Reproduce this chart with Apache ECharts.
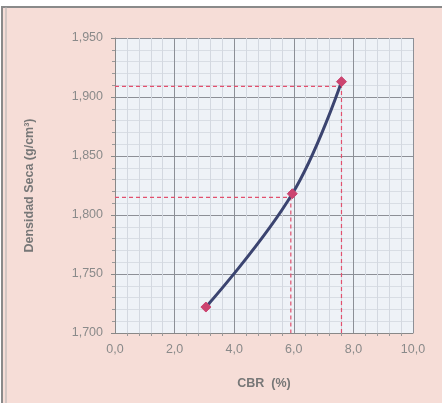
<!DOCTYPE html>
<html><head><meta charset="utf-8">
<script src="https://cdn.jsdelivr.net/npm/echarts@6/dist/echarts.min.js"></script>
<style>html,body{margin:0;padding:0;background:#fff}#c{width:442px;height:403px}</style>
</head><body><div id="c"></div>
<script>
var cbr = [3.05, 5.95, 7.6];
var densidad = [1.722, 1.818, 1.913];
var guide1 = [[0, 1.815], [5.9, 1.815], [5.9, 1.700]];
var guide2 = [[0, 1.909], [7.6, 1.909], [7.6, 1.700]];
var xTitle = 'CBR  (%)';
var yTitle = 'Densidad Seca (g/cm\u00b3)';

var chart = echarts.init(document.getElementById('c'));
var pts = cbr.map(function (v, i) { return [v, densidad[i]]; });
var dashStyle = { color: '#e2506e', width: 1.2, type: [4, 3] };
chart.setOption({
  backgroundColor: '#f6ddd7',
  animation: false,
  graphic: [
    { type: 'rect', shape: { x: 2, y: 7, width: 445, height: 400 }, style: { fill: 'none', stroke: '#8a8a8a', lineWidth: 2 }, z: 100 },
    { type: 'line', shape: { x1: 6, y1: 7, x2: 6, y2: 403 }, style: { stroke: '#b0b0b0', lineWidth: 1 }, z: 100 },
    { type: 'rect', shape: { x: 0, y: 0, width: 442, height: 6 }, style: { fill: '#ffffff' }, z: 99 },
    { type: 'rect', shape: { x: 0, y: 0, width: 1, height: 403 }, style: { fill: '#ffffff' }, z: 99 }
  ],
  grid: { left: 115, right: 29, top: 38, bottom: 70, show: true, backgroundColor: '#eef2f7', borderWidth: 0 },
  xAxis: {
    type: 'value', min: 0, max: 10, interval: 2,
    name: xTitle, nameLocation: 'middle', nameGap: 44,
    nameTextStyle: { color: '#777', fontWeight: 'bold', fontSize: 12.5, fontFamily: 'Liberation Sans' },
    axisLine: { show: true, onZero: false, lineStyle: { color: '#888' } },
    axisTick: { show: false },
    axisLabel: { color: '#8a8a8a', fontSize: 12.5, fontFamily: 'Liberation Sans', margin: 10,
      formatter: function (v) { return v.toFixed(1).replace('.', ','); } },
    splitLine: { show: true, lineStyle: { color: '#8c8f96', width: 1 } },
    minorTick: { show: true, splitNumber: 5, length: 3, lineStyle: { color: '#999' } },
    minorSplitLine: { show: true, lineStyle: { color: '#d3d8e0', width: 1 } }
  },
  yAxis: {
    type: 'value', min: 1.7, max: 1.95, interval: 0.05,
    name: yTitle, nameLocation: 'middle', nameGap: 79, nameRotate: 90,
    nameTextStyle: { color: '#777', fontWeight: 'bold', fontSize: 12.5, fontFamily: 'Liberation Sans' },
    axisLine: { show: true, lineStyle: { color: '#888' } },
    axisTick: { show: true, length: 4, lineStyle: { color: '#888' } },
    axisLabel: { color: '#8a8a8a', fontSize: 12.5, fontFamily: 'Liberation Sans', margin: 12,
      formatter: function (v) { return v.toFixed(3).replace('.', ','); } },
    splitLine: { show: true, lineStyle: { color: '#8c8f96', width: 1 } },
    minorTick: { show: true, splitNumber: 5, length: 3, lineStyle: { color: '#999' } },
    minorSplitLine: { show: true, lineStyle: { color: '#d8dde4', width: 1 } }
  },
  series: [
    { type: 'line', data: guide2, symbol: 'none', lineStyle: dashStyle, z: 3 },
    { type: 'line', data: guide1, symbol: 'none', lineStyle: dashStyle, z: 3 },
    { type: 'line', data: pts, smooth: 0.4, symbol: 'diamond', symbolSize: 10,
      lineStyle: { color: '#3b4470', width: 3 },
      itemStyle: { color: '#cc4470', borderColor: '#cc4470' }, z: 5 }
  ]
});
</script></body></html>
